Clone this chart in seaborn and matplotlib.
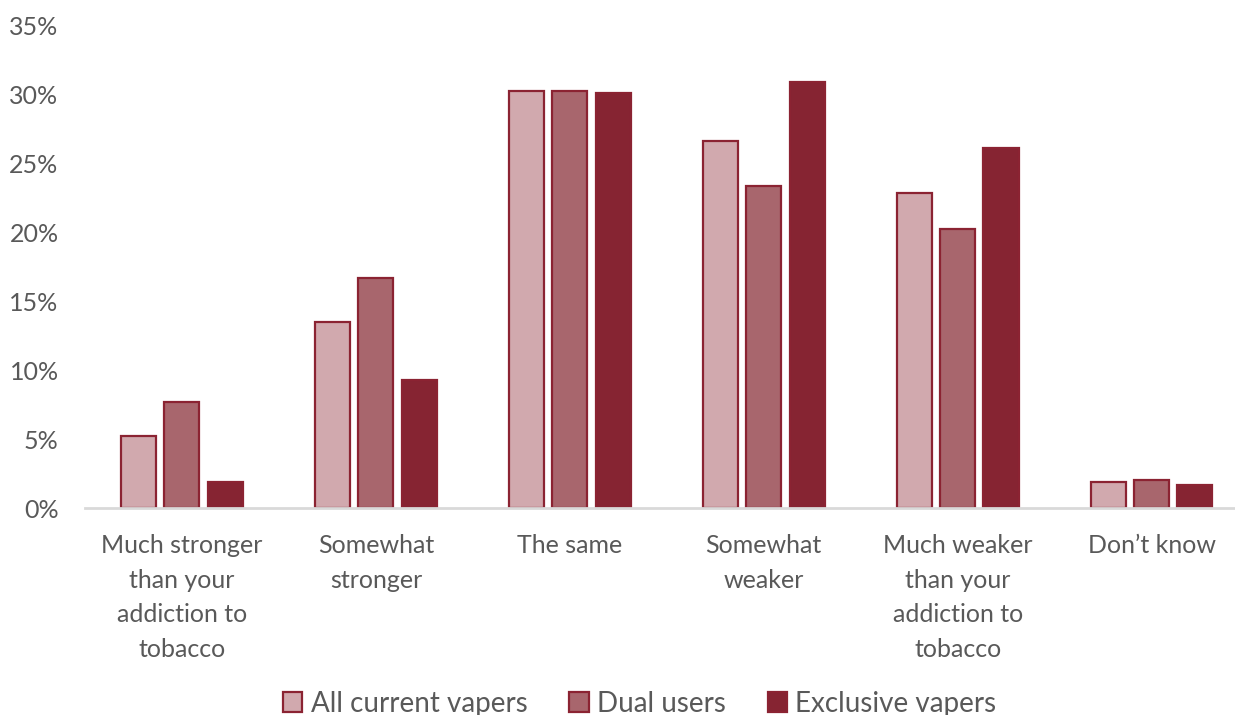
import pandas as pd
import matplotlib.pyplot as plt
import seaborn as sns

# ================================================ DATA ===============================================================

categories = ['Much stronger\nthan your\naddiction to\ntobacco', 'Somewhat\nstronger', 'The same',
              'Somewhat\nweaker', 'Much weaker\nthan your\naddiction to\ntobacco', 'Don\u2019t know']
series = ['All current vapers', 'Dual users', 'Exclusive vapers']
all_current = [5.2, 13.5, 30.2, 26.6, 22.8, 1.9]
dual_users = [7.7, 16.7, 30.2, 23.3, 20.2, 2.0]
exclusive = [1.9, 9.3, 30.1, 30.9, 26.1, 1.7]
y_ticks = [0, 5, 10, 15, 20, 25, 30, 35]

colors = ['#D1A9AE', '#A8666D', '#862432']
edge = '#8B2332'
text_color = '#595959'

# ================================================ PLOT ===============================================================

df = pd.DataFrame({
    'category': categories * 3,
    'series': [series[0]] * 6 + [series[1]] * 6 + [series[2]] * 6,
    'value': all_current + dual_users + exclusive,
})

sns.set_style('white')
plt.rcParams['font.family'] = ['Lato', 'DejaVu Sans']

fig = plt.figure(figsize=(12.35, 7.15), dpi=100)
ax = fig.add_axes([0.0688, 0.2895, 0.9422, 0.6755])

sns.barplot(data=df, x='category', y='value', hue='series', palette=colors, saturation=1,
            width=0.67, gap=0.19, edgecolor=edge, linewidth=1.6, ax=ax, legend=False)

ax.set_ylim(0, 35)
ax.set_xlim(-0.5, 5.5)
ax.set_yticks(y_ticks)
ax.set_yticklabels([f'{t}%' for t in y_ticks])
ax.set_xlabel('')
ax.set_ylabel('')
ax.tick_params(axis='both', length=0, labelsize=18, colors=text_color)
ax.tick_params(axis='x', pad=19)
ax.tick_params(axis='y', pad=19)
for lbl in ax.get_xticklabels():
    lbl.set_linespacing(1.6)
    lbl.set_verticalalignment('top')

for side in ['top', 'right', 'left']:
    ax.spines[side].set_visible(False)
ax.spines['bottom'].set_color('#D9D9D9')
ax.spines['bottom'].set_linewidth(2)

handles = [plt.Rectangle((0, 0), 1, 1, facecolor=c, edgecolor=edge, linewidth=1.6) for c in colors]
fig.legend(handles, series, loc='center', bbox_to_anchor=(0.518, 0.016), ncol=3, frameon=False,
           fontsize=20, handlelength=0.7, handleheight=0.7, handletextpad=0.3, columnspacing=1.5,
           labelcolor=text_color)

fig.savefig('out.png', dpi=100)
plt.close(fig)
